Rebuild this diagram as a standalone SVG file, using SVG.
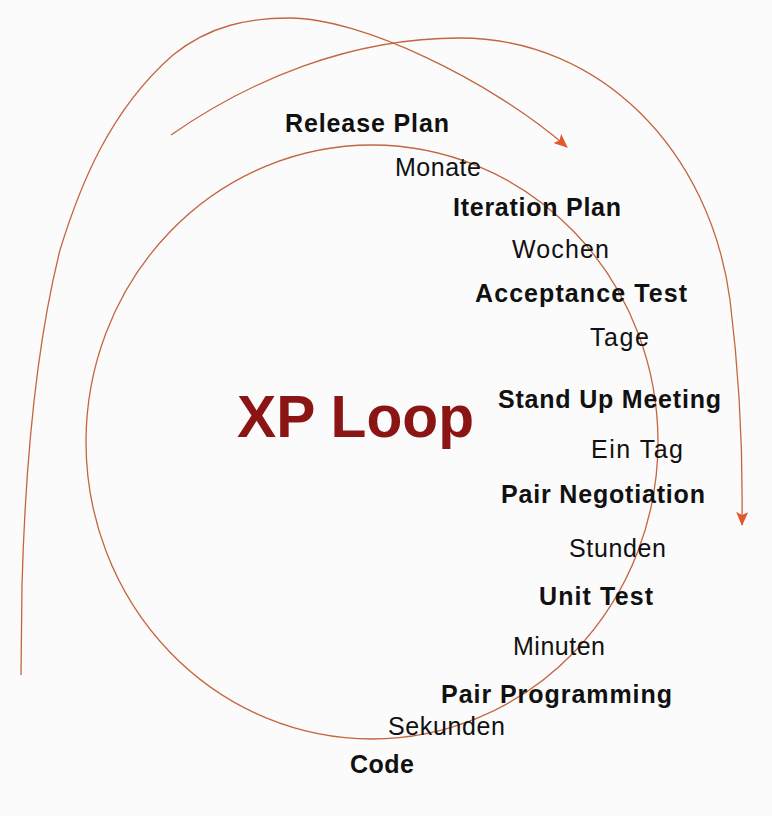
<svg xmlns="http://www.w3.org/2000/svg" width="772" height="816" viewBox="0 0 772 816">
<style>
.ln{fill:none;stroke:#c4653f;stroke-width:1.3}
.b{font-family:"Liberation Sans",Arial,sans-serif;font-weight:bold;font-size:25px;fill:#111}
.r{font-family:"Liberation Sans",Arial,sans-serif;font-size:25px;fill:#111}
.t{font-family:"Liberation Sans",Arial,sans-serif;font-weight:bold;font-size:60px;fill:#8b1414}
</style>
<defs>
<marker id="ah" viewBox="0 0 14 12" refX="13" refY="6" markerWidth="14" markerHeight="12" markerUnits="userSpaceOnUse" orient="auto">
<path d="M0,0 L14,6 L0,12 L3,6 Z" fill="#e4572e"/>
</marker>
</defs>
<rect width="772" height="816" fill="#fbfbfb"/>
<g id="connectors">
<path class="ln" d="M21,675 L22,585 C26,440 40,330 60,250 C80,185 110,110 173,55 C210,25 250,18 290,18 C360,18 490,80 567,147" marker-end="url(#ah)"/>
<path class="ln" d="M171,135 C250,80 350,38 460,38 C600,38 710,150 730,300 C740,380 743,450 742,525" marker-end="url(#ah)"/>
<ellipse class="ln" cx="372" cy="442" rx="286" ry="297"/>
</g>
<g id="title"><text class="t" x="237" y="437" textLength="237" lengthAdjust="spacingAndGlyphs">XP Loop</text></g>
<g id="release-plan"><text class="b" x="285" y="132" textLength="164">Release Plan</text></g>
<g id="monate"><text class="r" x="395" y="176" textLength="86">Monate</text></g>
<g id="iteration-plan"><text class="b" x="453" y="216" textLength="168">Iteration Plan</text></g>
<g id="wochen"><text class="r" x="512" y="258" textLength="97">Wochen</text></g>
<g id="acceptance-test"><text class="b" x="475" y="302" textLength="212">Acceptance Test</text></g>
<g id="tage"><text class="r" x="590" y="346" textLength="59">Tage</text></g>
<g id="stand-up-meeting"><text class="b" x="498" y="408" textLength="223">Stand Up Meeting</text></g>
<g id="ein-tag"><text class="r" x="591" y="458" textLength="92">Ein Tag</text></g>
<g id="pair-negotiation"><text class="b" x="501" y="503" textLength="204">Pair Negotiation</text></g>
<g id="stunden"><text class="r" x="569" y="557" textLength="97">Stunden</text></g>
<g id="unit-test"><text class="b" x="539" y="605" textLength="114">Unit Test</text></g>
<g id="minuten"><text class="r" x="513" y="655" textLength="92">Minuten</text></g>
<g id="pair-programming"><text class="b" x="441" y="703" textLength="231">Pair Programming</text></g>
<g id="sekunden"><text class="r" x="388" y="735" textLength="117">Sekunden</text></g>
<g id="code"><text class="b" x="350" y="773" textLength="64">Code</text></g>
</svg>
